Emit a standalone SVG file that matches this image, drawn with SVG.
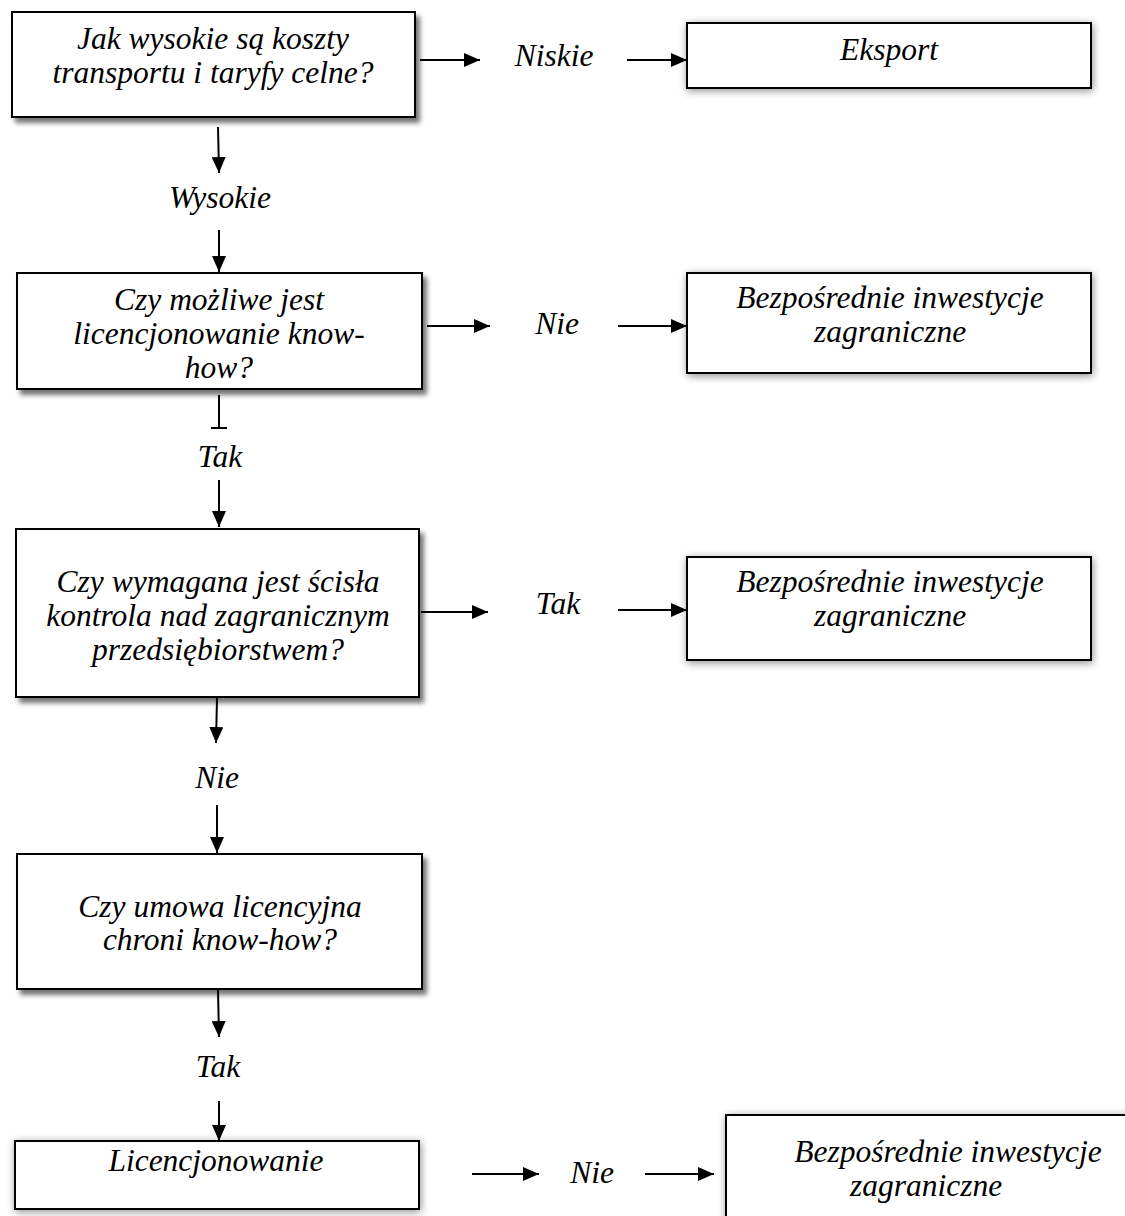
<svg xmlns="http://www.w3.org/2000/svg" width="1125" height="1216" viewBox="0 0 1125 1216">
<defs>
<style>
.box{fill:#fff;stroke:#000;stroke-width:2}
.t{font-family:"Liberation Serif","Times New Roman",serif;font-style:italic;font-size:31.5px;fill:#000;text-anchor:middle}
.c{stroke:#000;stroke-width:2;fill:none}
</style>
<filter id="sh" x="-10%" y="-20%" width="130%" height="150%">
<feGaussianBlur in="SourceAlpha" stdDeviation="2.5"/>
<feOffset dx="4" dy="5" result="b"/>
<feComponentTransfer><feFuncA type="linear" slope="0.55"/></feComponentTransfer>
<feMerge><feMergeNode/><feMergeNode in="SourceGraphic"/></feMerge>
</filter>
<filter id="gl" x="-10%" y="-30%" width="120%" height="160%">
<feGaussianBlur in="SourceAlpha" stdDeviation="4"/>
<feOffset dx="1" dy="2" result="b"/>
<feComponentTransfer><feFuncA type="linear" slope="0.45"/></feComponentTransfer>
<feMerge><feMergeNode/><feMergeNode in="SourceGraphic"/></feMerge>
</filter>
<marker id="ah" viewBox="0 0 16 14" refX="16" refY="7" markerWidth="16" markerHeight="14" markerUnits="userSpaceOnUse" orient="auto">
<path d="M0,0 L16,7 L0,14 Z" fill="#000"/>
</marker>
</defs>
<rect width="1125" height="1216" fill="#fff"/>

<g id="connectors">
<line class="c" x1="420" y1="60" x2="480" y2="60" marker-end="url(#ah)"/>
<line class="c" x1="627" y1="60" x2="687" y2="60" marker-end="url(#ah)"/>
<line class="c" x1="218" y1="127" x2="219" y2="173" marker-end="url(#ah)"/>
<line class="c" x1="219" y1="230" x2="219" y2="272" marker-end="url(#ah)"/>
<line class="c" x1="427" y1="326" x2="490" y2="326" marker-end="url(#ah)"/>
<line class="c" x1="618" y1="326" x2="687" y2="326" marker-end="url(#ah)"/>
<line class="c" x1="219" y1="395" x2="219" y2="428"/>
<line class="c" x1="211" y1="428" x2="227" y2="428"/>
<line class="c" x1="219" y1="480" x2="219" y2="527" marker-end="url(#ah)"/>
<line class="c" x1="421" y1="612" x2="488" y2="612" marker-end="url(#ah)"/>
<line class="c" x1="618" y1="610" x2="687" y2="610" marker-end="url(#ah)"/>
<line class="c" x1="217" y1="698" x2="216" y2="743" marker-end="url(#ah)"/>
<line class="c" x1="217" y1="805" x2="217" y2="853" marker-end="url(#ah)"/>
<line class="c" x1="218" y1="990" x2="219" y2="1037" marker-end="url(#ah)"/>
<line class="c" x1="219" y1="1101" x2="219" y2="1141" marker-end="url(#ah)"/>
<line class="c" x1="472" y1="1174" x2="539" y2="1174" marker-end="url(#ah)"/>
<line class="c" x1="645" y1="1174" x2="714" y2="1174" marker-end="url(#ah)"/>
</g>

<g id="labels">
<text class="t" x="554" y="66">Niskie</text>
<text class="t" x="220" y="208">Wysokie</text>
<text class="t" x="557" y="334">Nie</text>
<text class="t" x="220" y="467">Tak</text>
<text class="t" x="558" y="614">Tak</text>
<text class="t" x="217" y="788">Nie</text>
<text class="t" x="218" y="1077">Tak</text>
<text class="t" x="592" y="1183">Nie</text>
</g>

<g id="q1">
<rect class="box" x="12" y="12" width="403" height="105" filter="url(#sh)"/>
<text class="t" x="213" y="49">Jak wysokie są koszty</text>
<text class="t" x="213" y="83">transportu i taryfy celne?</text>
</g>
<g id="eksport">
<rect class="box" x="687" y="23" width="404" height="65" filter="url(#gl)"/>
<text class="t" x="889" y="60">Eksport</text>
</g>
<g id="q2">
<rect class="box" x="17" y="273" width="405" height="116" filter="url(#sh)"/>
<text class="t" x="219" y="310">Czy możliwe jest</text>
<text class="t" x="219" y="344">licencjonowanie know-</text>
<text class="t" x="219" y="378">how?</text>
</g>
<g id="biz1">
<rect class="box" x="687" y="273" width="404" height="100" filter="url(#gl)"/>
<text class="t" x="890" y="308">Bezpośrednie inwestycje</text>
<text class="t" x="890" y="342">zagraniczne</text>
</g>
<g id="q3">
<rect class="box" x="16" y="529" width="403" height="168" filter="url(#sh)"/>
<text class="t" x="218" y="592">Czy wymagana jest ścisła</text>
<text class="t" x="218" y="626">kontrola nad zagranicznym</text>
<text class="t" x="218" y="660">przedsiębiorstwem?</text>
</g>
<g id="biz2">
<rect class="box" x="687" y="557" width="404" height="103" filter="url(#gl)"/>
<text class="t" x="890" y="592">Bezpośrednie inwestycje</text>
<text class="t" x="890" y="626">zagraniczne</text>
</g>
<g id="q4">
<rect class="box" x="17" y="854" width="405" height="135" filter="url(#sh)"/>
<text class="t" x="220" y="917">Czy umowa licencyjna</text>
<text class="t" x="220" y="950">chroni know-how?</text>
</g>
<g id="licencjonowanie">
<rect class="box" x="15" y="1141" width="404" height="68" filter="url(#gl)"/>
<text class="t" x="216" y="1171">Licencjonowanie</text>
</g>
<g id="biz3">
<rect class="box" x="726" y="1115" width="410" height="120" filter="url(#gl)"/>
<text class="t" x="948" y="1162">Bezpośrednie inwestycje</text>
<text class="t" x="926" y="1196">zagraniczne</text>
</g>
</svg>
